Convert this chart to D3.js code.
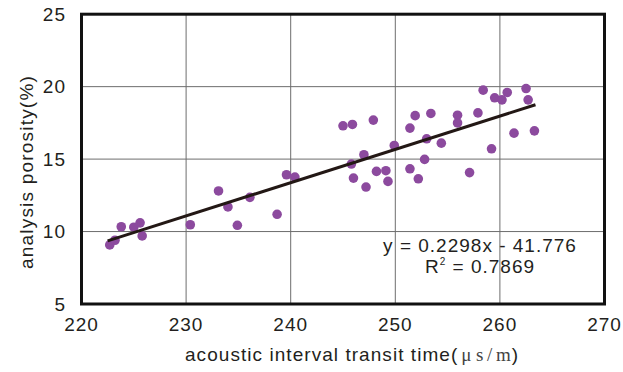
<!DOCTYPE html>
<html>
<head>
<meta charset="utf-8">
<script src="https://cdn.jsdelivr.net/npm/d3@7"></script>
<style>
  html, body { margin: 0; padding: 0; background: #fff; }
  text { font-family: "Liberation Sans", Arial, sans-serif; fill: #231f20; }
</style>
</head>
<body>
<div id="chart"></div>
<script>
// transit time (us/m) vs analysis porosity (%)
const transitTime = [222.7, 223.2, 223.8, 225.0, 225.6, 225.8, 230.4, 233.1, 234.0, 234.9,
  236.1, 238.7, 239.6, 240.4, 245.0, 245.9, 247.9, 247.0, 245.8, 246.0,
  247.2, 248.2, 249.1, 249.3, 249.9, 251.4, 251.9, 253.4, 253.0, 254.4,
  251.4, 252.8, 252.2, 255.95, 255.95, 257.1, 257.9, 258.4, 259.5, 260.2,
  260.7, 262.5, 262.7, 259.2, 261.35, 263.3];
const porosity = [9.08, 9.4, 10.33, 10.3, 10.6, 9.7, 10.47, 12.8, 11.7, 10.43,
  12.36, 11.19, 13.92, 13.76, 17.3, 17.39, 17.69, 15.3, 14.66, 13.69,
  13.07, 14.15, 14.2, 13.46, 15.94, 17.14, 18.0, 18.15, 16.4, 16.1,
  14.33, 14.98, 13.64, 18.03, 17.5, 14.07, 18.19, 19.76, 19.23, 19.09,
  19.6, 19.87, 19.09, 15.71, 16.79, 16.95];

const xTicks = [220, 230, 240, 250, 260, 270];
const yTicks = [5, 10, 15, 20, 25];

const slope = 0.2298, intercept = -41.776, r2 = "0.7869";
const fitRange = [222.5, 263.4];

const W = 623, H = 372;
const margin = { top: 14.2, right: 18.5, bottom: 68, left: 81.5 };

const svg = d3.select("#chart").append("svg")
  .attr("width", W).attr("height", H);

const x = d3.scaleLinear().domain([220, 270]).range([margin.left, W - margin.right]);
const y = d3.scaleLinear().domain([5, 25]).range([H - margin.bottom, margin.top]);

// grid
svg.append("g")
  .selectAll("line")
  .data(xTicks.slice(1, -1))
  .join("line")
  .attr("x1", d => x(d)).attr("x2", d => x(d))
  .attr("y1", y(25)).attr("y2", y(5))
  .attr("stroke", "#6d6d6d").attr("stroke-width", 1);
svg.append("g")
  .selectAll("line")
  .data(yTicks.slice(1, -1))
  .join("line")
  .attr("x1", x(220)).attr("x2", x(270))
  .attr("y1", d => y(d)).attr("y2", d => y(d))
  .attr("stroke", "#6d6d6d").attr("stroke-width", 1);

// points
const pts = transitTime.map((t, i) => ({ t: t, p: porosity[i] }));
svg.append("g")
  .selectAll("circle")
  .data(pts)
  .join("circle")
  .attr("cx", d => x(d.t))
  .attr("cy", d => y(d.p))
  .attr("r", 4.8)
  .attr("fill", "#8c4a9e");

// trend line
svg.append("path")
  .datum(fitRange)
  .attr("fill", "none")
  .attr("stroke", "#231815")
  .attr("stroke-width", 3)
  .attr("d", d3.line().x(d => x(d)).y(d => y(slope * d + intercept)));

// frame
svg.append("rect")
  .attr("x", x(220)).attr("y", y(25))
  .attr("width", x(270) - x(220)).attr("height", y(5) - y(25))
  .attr("fill", "none").attr("stroke", "#111").attr("stroke-width", 3);

// tick labels
svg.append("g")
  .selectAll("text")
  .data(xTicks)
  .join("text")
  .attr("x", d => x(d)).attr("y", 331)
  .attr("text-anchor", "middle")
  .attr("font-size", 19).attr("letter-spacing", 1)
  .text(d => d);
svg.append("g")
  .selectAll("text")
  .data(yTicks)
  .join("text")
  .attr("x", 66).attr("y", d => y(d))
  .attr("dy", "0.36em")
  .attr("text-anchor", "end")
  .attr("font-size", 19).attr("letter-spacing", 1)
  .text(d => d);

// equation
svg.append("text")
  .attr("x", 480).attr("y", 252)
  .attr("text-anchor", "middle")
  .attr("font-size", 19).attr("letter-spacing", 1)
  .text("y = " + slope + "x - " + Math.abs(intercept));
const rt = svg.append("text")
  .attr("x", 480).attr("y", 273)
  .attr("text-anchor", "middle")
  .attr("font-size", 19).attr("letter-spacing", 1);
rt.append("tspan").text("R");
rt.append("tspan").attr("font-size", 10).attr("dy", -8).text("2");
rt.append("tspan").attr("dy", 8).text(" = " + r2);

// axis titles
const xt = svg.append("text")
  .attr("x", 185).attr("y", 361)
  .attr("font-size", 19).attr("letter-spacing", 1.05);
xt.append("tspan").text("acoustic interval transit time(");
const unitParts = [["μ", 3], ["s", 4.5], ["/", 3.6], ["m", 3.7]];
unitParts.forEach(([ch, gap]) => {
  xt.append("tspan")
    .attr("font-family", "'Liberation Serif', serif")
    .attr("fill", "#444")
    .attr("letter-spacing", 0)
    .attr("dx", gap)
    .text(ch);
});
xt.append("tspan").attr("dx", 1).text(")");

svg.append("text")
  .attr("transform", "translate(33,172) rotate(-90)")
  .attr("text-anchor", "middle")
  .attr("font-size", 19).attr("letter-spacing", 1.2)
  .text("analysis porosity(%)");
</script>
</body>
</html>
